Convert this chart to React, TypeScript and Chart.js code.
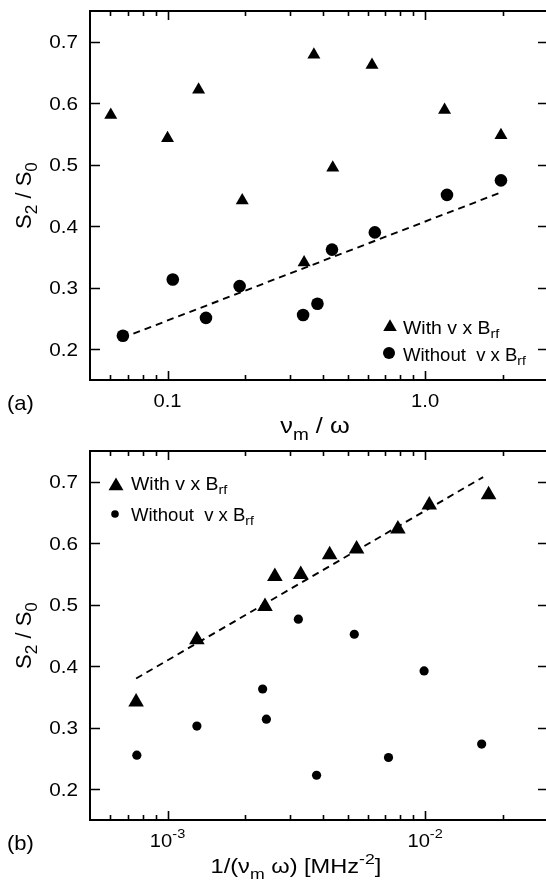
import React, { useEffect, useRef } from 'react';
import { Chart, registerables } from 'chart.js';

Chart.register(...registerables);

const FONT = '"Liberation Sans", Arial, Helvetica, sans-serif';

// ---- shared y axis ----
const yMin = 0.15;
const yMax = 0.75;
const yTickValues = [0.2, 0.3, 0.4, 0.5, 0.6, 0.7];
const yTickLabels = ['0.2', '0.3', '0.4', '0.5', '0.6', '0.7'];

// ---- panel (a): S2/S0 versus nu_m / omega ----
const aXMin = 0.05;
const aXMax = 3;
const aMajorTicks = [0.1, 1.0];
const aMajorLabels = ['0.1', '1.0'];
const aWithX = [0.0602, 0.1, 0.132, 0.195, 0.339, 0.37, 0.438, 0.622, 1.19, 1.97];
const aWithY = [0.581, 0.543, 0.622, 0.442, 0.341, 0.679, 0.495, 0.662, 0.589, 0.548];
const aWithoutX = [0.0671, 0.1048, 0.141, 0.1905, 0.336, 0.382, 0.435, 0.638, 1.216, 1.97];
const aWithoutY = [0.222, 0.3135, 0.251, 0.3027, 0.2557, 0.274, 0.362, 0.39, 0.451, 0.4746];
const aFitX = [0.0737, 1.97];
const aFitY = [0.2254, 0.455];

// ---- panel (b): S2/S0 versus 1/(nu_m omega) ----
const bXMin = 5e-4;
const bXMax = 3e-2;
const bMajorTicks = [1e-3, 1e-2];
const bMajorExponents = ['-3', '-2'];
const bWithX = [7.55e-4, 1.3e-3, 2.39e-3, 2.61e-3, 3.29e-3, 4.26e-3, 5.42e-3, 7.84e-3, 1.038e-2, 1.764e-2];
const bWithY = [0.342, 0.443, 0.497, 0.546, 0.549, 0.5815, 0.5908, 0.623, 0.662, 0.679];
const bWithoutX = [7.6e-4, 1.3e-3, 2.34e-3, 2.42e-3, 3.22e-3, 3.79e-3, 5.31e-3, 7.21e-3, 9.91e-3, 1.658e-2];
const bWithoutY = [0.2554, 0.3027, 0.363, 0.314, 0.4766, 0.2228, 0.452, 0.2516, 0.3924, 0.2734];
const bFitX = [7.55e-4, 1.68e-2];
const bFitY = [0.38, 0.7076];

type Run = { t: string; s?: 'sub' | 'sup' };
type TextOpts = {
  size: number;
  align?: 'left' | 'center' | 'right';
  stretch?: number;
  subScale?: number;
  subDy?: number;
  supDy?: number;
};

// Draws a run of text made of normal, subscript and superscript pieces.
function drawRuns(ctx: CanvasRenderingContext2D, runs: Run[], x: number, y: number, o: TextOpts) {
  const stretch = o.stretch ?? 1;
  const subScale = o.subScale ?? 0.72;
  const fontFor = (r: Run) => `${r.s ? o.size * subScale : o.size}px ${FONT}`;
  const widths = runs.map((r) => {
    ctx.font = fontFor(r);
    return ctx.measureText(r.t).width * stretch;
  });
  const total = widths.reduce((a, b) => a + b, 0);
  const align = o.align ?? 'left';
  let cx = align === 'left' ? x : align === 'center' ? x - total / 2 : x - total;
  runs.forEach((r, i) => {
    ctx.save();
    ctx.font = fontFor(r);
    ctx.textAlign = 'left';
    ctx.textBaseline = 'alphabetic';
    ctx.fillStyle = '#000';
    const dy = r.s === 'sub' ? o.size * (o.subDy ?? 0.28) : r.s === 'sup' ? -o.size * (o.supDy ?? 0.45) : 0;
    ctx.translate(cx, y + dy);
    ctx.scale(stretch, 1);
    ctx.fillText(r.t, 0, 0);
    ctx.restore();
    cx += widths[i];
  });
}

function drawTriangle(ctx: CanvasRenderingContext2D, x: number, y: number, r: number) {
  ctx.beginPath();
  ctx.moveTo(x, y - r);
  ctx.lineTo(x + r * Math.sin((2 * Math.PI) / 3), y + r / 2);
  ctx.lineTo(x - r * Math.sin((2 * Math.PI) / 3), y + r / 2);
  ctx.closePath();
  ctx.fill();
}

function drawDot(ctx: CanvasRenderingContext2D, x: number, y: number, r: number) {
  ctx.beginPath();
  ctx.arc(x, y, r, 0, Math.PI * 2);
  ctx.fill();
}

type PanelSpec = {
  xMin: number;
  xMax: number;
  withX: number[];
  withY: number[];
  withoutX: number[];
  withoutY: number[];
  fitX: number[];
  fitY: number[];
  triR: number;
  dotR: number;
  majorTicks: number[];
  majorLabel: (i: number) => Run[];
  xTitle: Run[];
  xTitleX: number;
  xTitleSize: number;
  xTitleStretch: number;
  panelLabel: string;
  legend: { triX: number; triY: number; triR: number; dotX: number; dotY: number; dotR: number; textX: number; base1: number; base2: number };
};

const legendWith: Run[] = [{ t: 'With v x B' }, { t: 'rf', s: 'sub' }];
const legendWithout: Run[] = [{ t: 'Without  v x B' }, { t: 'rf', s: 'sub' }];
const yTitle: Run[] = [{ t: 'S' }, { t: '2', s: 'sub' }, { t: ' / S' }, { t: '0', s: 'sub' }];

const panelA: PanelSpec = {
  xMin: aXMin,
  xMax: aXMax,
  withX: aWithX,
  withY: aWithY,
  withoutX: aWithoutX,
  withoutY: aWithoutY,
  fitX: aFitX,
  fitY: aFitY,
  triR: 7.5,
  dotR: 6.3,
  majorTicks: aMajorTicks,
  majorLabel: (i) => [{ t: aMajorLabels[i] }],
  xTitle: [{ t: 'ν' }, { t: 'm', s: 'sub' }, { t: ' / ω' }],
  xTitleX: 315,
  xTitleSize: 22,
  xTitleStretch: 1.15,
  panelLabel: '(a)',
  legend: { triX: 390, triY: 327, triR: 7.8, dotX: 389, dotY: 353, dotR: 6.0, textX: 403, base1: 334, base2: 361 },
};

const panelB: PanelSpec = {
  xMin: bXMin,
  xMax: bXMax,
  withX: bWithX,
  withY: bWithY,
  withoutX: bWithoutX,
  withoutY: bWithoutY,
  fitX: bFitX,
  fitY: bFitY,
  triR: 9,
  dotR: 4.6,
  majorTicks: bMajorTicks,
  majorLabel: (i) => [{ t: '10' }, { t: bMajorExponents[i], s: 'sup' }],
  xTitle: [{ t: '1/(ν' }, { t: 'm', s: 'sub' }, { t: ' ω) [MHz' }, { t: '-2', s: 'sup' }, { t: ']' }],
  xTitleX: 296,
  xTitleSize: 20,
  xTitleStretch: 1.18,
  panelLabel: '(b)',
  legend: { triX: 116, triY: 46, triR: 8.6, dotX: 115, dotY: 74, dotR: 3.8, textX: 131, base1: 50, base2: 81 },
};

function minorTicks(min: number, max: number): number[] {
  const out: number[] = [];
  for (let e = Math.floor(Math.log10(min)); e <= Math.ceil(Math.log10(max)); e++) {
    for (let m = 2; m <= 9; m++) {
      const v = m * Math.pow(10, e);
      if (v > min * 1.0001 && v < max * 0.9999) out.push(v);
    }
  }
  return out;
}

function makeFramePlugin(spec: PanelSpec) {
  return {
    id: 'frameAndText',
    afterDraw(chart: any) {
      const ctx: CanvasRenderingContext2D = chart.ctx;
      const { left, right, top, bottom } = chart.chartArea;
      const xs = chart.scales.x;
      const ys = chart.scales.y;
      ctx.save();
      ctx.strokeStyle = '#000';
      ctx.fillStyle = '#000';
      ctx.lineCap = 'butt';

      // frame
      ctx.lineWidth = 2;
      ctx.strokeRect(left, top, right - left, bottom - top);

      // ticks (inward, all four sides)
      ctx.lineWidth = 1.6;
      ctx.beginPath();
      yTickValues.forEach((v) => {
        const py = Math.round(ys.getPixelForValue(v)) + 0.5;
        ctx.moveTo(left, py);
        ctx.lineTo(left + 10, py);
        ctx.moveTo(right, py);
        ctx.lineTo(right - 10, py);
      });
      spec.majorTicks.forEach((v) => {
        const px = Math.round(xs.getPixelForValue(v)) + 0.5;
        ctx.moveTo(px, bottom);
        ctx.lineTo(px, bottom - 9);
        ctx.moveTo(px, top);
        ctx.lineTo(px, top + 9);
      });
      minorTicks(spec.xMin, spec.xMax).forEach((v) => {
        const px = Math.round(xs.getPixelForValue(v)) + 0.5;
        ctx.moveTo(px, bottom);
        ctx.lineTo(px, bottom - 5);
        ctx.moveTo(px, top);
        ctx.lineTo(px, top + 5);
      });
      ctx.stroke();

      // y tick labels
      yTickValues.forEach((v, i) => {
        const py = ys.getPixelForValue(v);
        drawRuns(ctx, [{ t: yTickLabels[i] }], 78, py + 6.5, { size: 18, align: 'right', stretch: 1.15 });
      });

      // x tick labels
      spec.majorTicks.forEach((v, i) => {
        const px = xs.getPixelForValue(v);
        drawRuns(ctx, spec.majorLabel(i), px, bottom + 27, { size: 18, align: 'center', stretch: 1.12, subScale: 0.72, supDy: 0.5 });
      });

      // x axis title
      drawRuns(ctx, spec.xTitle, spec.xTitleX, bottom + 53, {
        size: spec.xTitleSize,
        align: 'center',
        stretch: spec.xTitleStretch,
        subScale: 0.75,
        subDy: 0.3,
        supDy: 0.45,
      });

      // y axis title (rotated)
      ctx.save();
      ctx.translate(31, (top + bottom) / 2);
      ctx.rotate(-Math.PI / 2);
      drawRuns(ctx, yTitle, 0, 0, { size: 22, align: 'center', subScale: 0.78, subDy: 0.25 });
      ctx.restore();

      // panel label
      drawRuns(ctx, [{ t: spec.panelLabel }], 7, bottom + 30, { size: 21, align: 'left', stretch: 1.05 });

      // legend
      const L = spec.legend;
      drawTriangle(ctx, L.triX, L.triY, L.triR);
      drawDot(ctx, L.dotX, L.dotY, L.dotR);
      drawRuns(ctx, legendWith, L.textX, L.base1, { size: 18, stretch: 1.08, subScale: 0.75, subDy: 0.2 });
      drawRuns(ctx, legendWithout, L.textX, L.base2, { size: 18, stretch: 1.03, subScale: 0.75, subDy: 0.2 });

      ctx.restore();
    },
  };
}

function pairs(xs: number[], ys: number[]) {
  return xs.map((x, i) => ({ x, y: ys[i] }));
}

function Panel({ spec, height }: { spec: PanelSpec; height: number }) {
  const ref = useRef<HTMLCanvasElement | null>(null);
  useEffect(() => {
    if (!ref.current) return;
    const chart = new Chart(ref.current, {
      type: 'scatter',
      data: {
        datasets: [
          {
            label: 'fit',
            type: 'line',
            data: pairs(spec.fitX, spec.fitY),
            borderColor: '#000',
            borderWidth: 1.9,
            borderDash: [7, 5],
            pointRadius: 0,
            showLine: true,
            fill: false,
            order: 3,
          } as any,
          {
            label: 'With v x Brf',
            data: pairs(spec.withX, spec.withY),
            pointStyle: 'triangle',
            pointRadius: spec.triR,
            backgroundColor: '#000',
            borderColor: '#000',
            borderWidth: 0,
            order: 1,
          },
          {
            label: 'Without v x Brf',
            data: pairs(spec.withoutX, spec.withoutY),
            pointStyle: 'circle',
            pointRadius: spec.dotR,
            backgroundColor: '#000',
            borderColor: '#000',
            borderWidth: 0,
            order: 1,
          },
        ],
      },
      options: {
        responsive: false,
        animation: false,
        events: [],
        layout: { padding: { left: 90, right: 12, top: 11, bottom: height - 380 } },
        plugins: { legend: { display: false }, tooltip: { enabled: false } },
        scales: {
          x: { type: 'logarithmic', min: spec.xMin, max: spec.xMax, display: false },
          y: { type: 'linear', min: yMin, max: yMax, display: false },
        },
      },
      plugins: [makeFramePlugin(spec)],
    });
    return () => chart.destroy();
  }, [spec, height]);
  return <canvas ref={ref} width={560} height={height} style={{ display: 'block' }} />;
}

export default function App() {
  return (
    <div
      style={{
        position: 'absolute',
        left: 0,
        top: 0,
        width: 546,
        height: 886,
        overflow: 'hidden',
        background: '#fff',
      }}
    >
      <Panel spec={panelA} height={440} />
      <Panel spec={panelB} height={446} />
    </div>
  );
}
